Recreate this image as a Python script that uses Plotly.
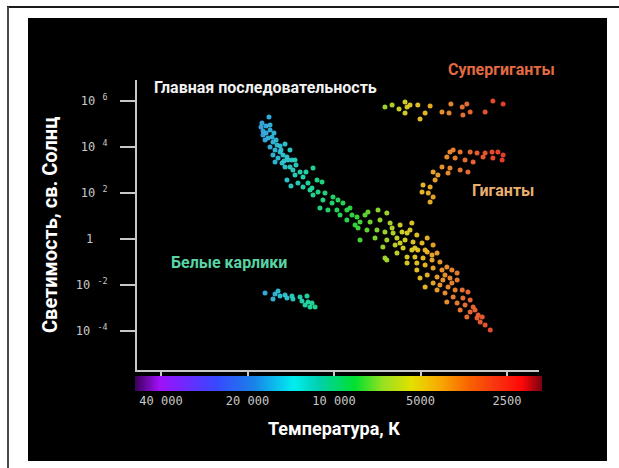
import numpy as np
import plotly.graph_objects as go

# ---------------------------------------------------------------------------
# Star samples for the Hertzsprung–Russell diagram.
# Temperatures in kelvin, luminosities as log10(L / L_sun).
# ---------------------------------------------------------------------------
ms_temp = [
    16840, 17810, 17950, 17660, 17240, 17660, 16970, 16440, 17380, 16310,
    15790, 16700, 14810, 16040, 15410, 16310, 15050, 15660, 14580, 16040,
    15170, 14010, 14810, 14230, 13900, 14580, 13670, 17240, 16700, 15910,
    15410, 14230, 14930, 13560, 13350, 14120, 16700, 16180, 15290, 14460,
    13670, 13130, 12520, 12820, 11930, 11830,
    11830, 12820, 12320, 11460, 11010, 12120, 11370, 10750, 10080, 10930,
    10160, 9310, 11190, 10500, 9770, 9020, 9530, 8660, 8320, 7620,
    7030, 6550, 9020, 8120, 7490, 6920, 6380, 5890, 5360, 8250,
    7680, 7090, 6650, 6230, 5800, 5570, 5150, 4740, 8120, 7200,
    6550, 6040, 5660, 5310, 4940, 4520, 6760, 6130, 5750, 5360,
    5110, 4740, 4380, 6550, 6040, 5570, 5230, 4900, 4560, 4280,
    4050, 5570, 5150, 4820, 4520, 4210, 3890, 3730, 5150, 4740,
    4380, 4180, 3950, 3730, 5020, 4520, 4280, 4010, 3790, 4820,
    4380, 4110, 3850, 3560, 3420, 4050, 3730, 3500, 3280, 3640,
    3360, 3150, 3450, 3180, 3050, 2860, 6650,
    9690, 8800, 7800, 8450, 6280, 5440, 5230, 5890, 4820, 4560,
    4110, 3890, 3580, 3360, 3230, 3100, 2980,
]
ms_log_lum = [
    5.30, 5.04, 4.87, 4.70, 4.61, 4.52, 4.39, 4.43, 4.30, 4.22,
    4.09, 4.00, 4.13, 3.87, 3.78, 3.65, 3.65, 3.52, 3.57, 3.35,
    3.30, 3.43, 3.13, 3.13, 3.00, 2.57, 2.78, 4.91, 4.74, 4.30,
    4.04, 3.87, 3.39, 3.22, 2.43, 2.30, 4.96, 4.61, 3.87, 3.43,
    3.43, 2.91, 2.91, 2.26, 2.22, 1.91,
    3.09, 2.70, 2.43, 2.57, 2.48, 2.13, 2.04, 2.00, 1.83, 1.70,
    1.57, 1.57, 1.35, 1.26, 1.26, 1.26, 1.04, 1.04, 0.96, 1.17,
    1.26, 1.13, 0.83, 0.74, 0.74, 0.83, 0.70, 0.61, 0.70, 0.48,
    0.39, 0.39, 0.30, 0.26, 0.30, 0.26, 0.17, 0.04, -0.04, 0.04,
    -0.04, 0.04, -0.04, -0.13, -0.17, -0.26, -0.35, -0.26, -0.39, -0.48,
    -0.48, -0.57, -0.61, -0.91, -0.61, -0.78, -0.78, -0.83, -0.91, -1.00,
    -1.22, -1.04, -1.04, -1.13, -1.26, -1.35, -1.35, -1.48, -1.35, -1.57,
    -1.65, -1.78, -1.70, -1.78, -1.70, -1.91, -2.00, -2.09, -2.22, -2.09,
    -2.22, -2.35, -2.52, -2.57, -2.30, -2.74, -2.78, -2.87, -2.96, -3.09,
    -3.17, -3.30, -3.39, -3.43, -3.39, -3.96, -0.83,
    1.70, 1.35, 1.04, 0.61, 0.48, 0.39, -0.39, -0.17, -0.48, -0.70,
    -1.57, -1.91, -2.22, -2.65, -3.09, -3.61, -3.74,
]

supergiant_temp = [
    6650, 6280, 5940, 5660, 5570, 5660, 5440, 5110, 4820, 4630,
    5020, 4210, 3980, 3920, 3580, 3450, 3360, 3560, 2980, 2800, 2580,
]
supergiant_log_lum = [
    5.74, 5.83, 5.65, 5.96, 5.74, 5.48, 5.83, 5.83, 5.48, 5.78,
    5.22, 5.52, 5.48, 5.87, 5.74, 5.87, 5.52, 5.39, 5.52, 6.00, 5.87,
]

giant_temp = [
    3850, 3950, 3640, 3360, 3180, 2980, 2820, 2690, 2580, 4050,
    3790, 3500, 3280, 3030, 2800, 2600, 4210, 3950, 3640, 3420,
    4520, 4350, 4010, 4450, 4900, 4630, 4940, 4700, 4520, 4630,
]
giant_log_lum = [
    3.87, 3.78, 3.78, 3.78, 3.74, 3.74, 3.78, 3.78, 3.65, 3.57,
    3.52, 3.43, 3.35, 3.57, 3.52, 3.43, 3.13, 3.09, 3.00, 2.91,
    2.91, 2.78, 2.87, 2.57, 2.35, 2.26, 2.04, 2.00, 1.83, 1.61,
]

dwarf_temp = [
    17380, 16040, 15660, 15410, 14810, 14580, 14010, 13900, 13130,
    12930, 12420, 12320, 12610, 12120, 11640, 11930, 16310,
]
dwarf_log_lum = [
    -2.35, -2.39, -2.26, -2.48, -2.43, -2.57, -2.48, -2.61, -2.52,
    -2.70, -2.48, -2.74, -2.87, -2.96, -2.96, -2.78, -2.61,
]

temp_ticks = [40000, 20000, 10000, 5000, 2500]
temp_tick_text = ["40 000", "20 000", "10 000", "5000", "2500"]
lum_ticks = [1e6, 1e4, 1e2, 1, 1e-2, 1e-4]
lum_tick_text = ["10 <sup>6</sup>", "10 <sup>4</sup>", "10 <sup>2</sup>",
                 "1\u00a0\u00a0", "10 <sup>-2</sup>", "10 <sup>-4</sup>"]

# axis extents (log10 units); temperature runs hot -> cool
T_HOT, T_COOL = 4.6856, 3.2867
L_LOW, L_HIGH = -5.696, 6.913

# spectral colour strip under the temperature axis, hot (left) to cool (right)
spectrum = [
    [0.00, "#3a0058"], [0.06, "#a010f8"], [0.12, "#7028ff"], [0.20, "#3848ff"],
    [0.29, "#1a80e8"], [0.39, "#00eef0"], [0.45, "#00d0b0"], [0.54, "#00e030"],
    [0.61, "#98e020"], [0.68, "#e4e000"], [0.75, "#f8a800"], [0.82, "#f86400"],
    [0.88, "#f83810"], [0.95, "#ff0808"], [1.00, "#7a0010"],
]
# softer palette used for the star dots themselves
star_palette = [
    [0.00, "#8040f0"], [0.20, "#4070f0"], [0.28, "#3a9ae8"], [0.32, "#38b0e4"],
    [0.37, "#30c8d0"], [0.42, "#22dca8"], [0.48, "#22dc70"], [0.54, "#30dc40"],
    [0.60, "#90dc30"], [0.66, "#d8d828"], [0.71, "#f0c028"], [0.76, "#f09830"],
    [0.82, "#f07038"], [0.88, "#f05030"], [0.94, "#e83028"], [1.00, "#d02020"],
]

FONT_NARROW = "Liberation Sans Narrow, Arial Narrow, Roboto, sans-serif"
FONT_DIGITS = "DejaVu Sans Mono, monospace"


def star_trace(temps, log_lum, name):
    return go.Scatter(
        x=temps,
        y=[10 ** v for v in log_lum],
        mode="markers",
        name=name,
        marker=dict(
            size=5,
            color=[-np.log10(t) for t in temps],
            coloraxis="coloraxis2",
            opacity=0.95,
            line=dict(width=0),
        ),
        hovertemplate="%{x} K<br>%{y:.2e} L☉<extra></extra>",
    )


# invisible carrier for the spectral strip (colour bar only)
strip = go.Scatter(
    x=[temp_ticks[0]], y=[1], mode="markers",
    marker=dict(size=0.1, opacity=0, color=[-T_HOT], coloraxis="coloraxis"),
    hoverinfo="skip", showlegend=False,
)

fig = go.Figure([
    strip,
    star_trace(ms_temp, ms_log_lum, "Главная последовательность"),
    star_trace(supergiant_temp, supergiant_log_lum, "Супергиганты"),
    star_trace(giant_temp, giant_log_lum, "Гиганты"),
    star_trace(dwarf_temp, dwarf_log_lum, "Белые карлики"),
])

PLOT_W, PLOT_H = 402, 290


def px_x(p):  # pixel offset -> paper x
    return (p - 137) / PLOT_W


def px_y(p):  # pixel offset -> paper y
    return (370 - p) / PLOT_H


axis_grey = "#c8c8c8"

fig.update_layout(
    width=619,
    height=468,
    autosize=False,
    margin=dict(l=137, r=80, t=80, b=98, pad=0),
    paper_bgcolor="white",
    plot_bgcolor="black",
    showlegend=False,
    coloraxis=dict(
        colorscale=spectrum,
        cmin=-T_HOT,
        cmax=-T_COOL,
        colorbar=dict(
            orientation="h",
            lenmode="pixels",
            len=407,
            thickness=15,
            x=0.5,
            xanchor="center",
            y=px_y(376),
            yanchor="top",
            xpad=0,
            ypad=0,
            outlinewidth=0,
            showticklabels=False,
            ticks="",
        ),
    ),
    coloraxis2=dict(
        colorscale=star_palette,
        cmin=-T_HOT,
        cmax=-T_COOL,
        showscale=False,
    ),
    xaxis=dict(
        type="log",
        range=[T_HOT, T_COOL],
        tickvals=temp_ticks,
        ticktext=temp_tick_text,
        ticks="outside",
        ticklen=6,
        tickwidth=2,
        tickcolor=axis_grey,
        ticklabelstandoff=13,
        tickfont=dict(family=FONT_DIGITS, size=12, color=axis_grey),
        showline=True,
        linewidth=2,
        linecolor=axis_grey,
        showgrid=False,
        zeroline=False,
    ),
    yaxis=dict(
        type="log",
        range=[L_LOW, L_HIGH],
        tickvals=lum_ticks,
        ticktext=lum_tick_text,
        ticks="outside",
        ticklen=15,
        tickwidth=2,
        tickcolor=axis_grey,
        ticklabelstandoff=10,
        tickfont=dict(family=FONT_DIGITS, size=12, color=axis_grey),
        showline=True,
        linewidth=2,
        linecolor=axis_grey,
        showgrid=False,
        zeroline=False,
    ),
    shapes=[
        # black backdrop behind the whole diagram
        dict(type="rect", xref="paper", yref="paper", layer="below",
             x0=px_x(28), x1=px_x(607), y0=px_y(461), y1=px_y(18),
             fillcolor="black", line=dict(width=0)),
        # thin frame along the top and left edges of the page
        dict(type="line", xref="paper", yref="paper",
             x0=px_x(7), x1=px_x(619), y0=px_y(7), y1=px_y(7),
             line=dict(color="#1a1a1a", width=2)),
        dict(type="line", xref="paper", yref="paper",
             x0=px_x(8), x1=px_x(8), y0=px_y(7), y1=px_y(468),
             line=dict(color="#4a4a4a", width=2)),
    ],
    annotations=[
        dict(text="<b>Светимость, св. Солнц</b>", xref="paper", yref="paper",
             x=px_x(50), y=0.5, textangle=-90, showarrow=False,
             xanchor="center", yanchor="middle",
             font=dict(family=FONT_NARROW, size=20, color="white")),
        dict(text="<b>Температура, К</b>", xref="paper", yref="paper",
             x=px_x(334), y=px_y(428), showarrow=False,
             xanchor="center", yanchor="middle",
             font=dict(family=FONT_NARROW, size=18, color="white")),
        dict(text="<b>Главная последовательность</b>", xref="paper", yref="paper",
             x=px_x(152), y=px_y(87), showarrow=False,
             xanchor="left", yanchor="middle",
             font=dict(family=FONT_NARROW, size=16, color="#f2f2f2")),
        dict(text="<b>Супергиганты</b>", xref="paper", yref="paper",
             x=px_x(501), y=px_y(70), showarrow=False,
             xanchor="center", yanchor="middle",
             font=dict(family=FONT_NARROW, size=16, color="#e46a42")),
        dict(text="<b>Гиганты</b>", xref="paper", yref="paper",
             x=px_x(503), y=px_y(190), showarrow=False,
             xanchor="center", yanchor="middle",
             font=dict(family=FONT_NARROW, size=16, color="#eab070")),
        dict(text="<b>Белые карлики</b>", xref="paper", yref="paper",
             x=px_x(229), y=px_y(262), showarrow=False,
             xanchor="center", yanchor="middle",
             font=dict(family=FONT_NARROW, size=16, color="#58d4a4")),
    ],
)

fig.write_html("out.html")
